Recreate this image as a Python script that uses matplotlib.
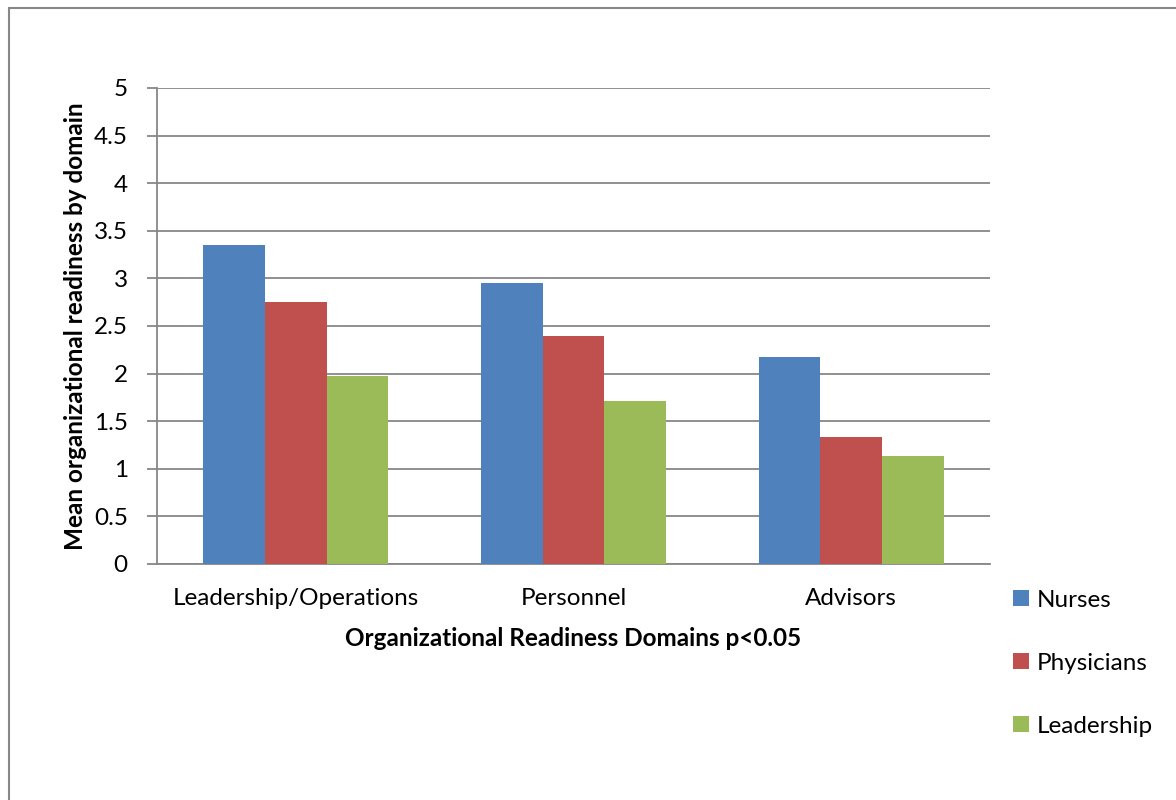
import matplotlib
matplotlib.use("Agg")
import matplotlib.pyplot as plt
from matplotlib.patches import Rectangle, Patch

plt.rcParams['font.family'] = ['Lato', 'DejaVu Sans']

categories = ["Leadership/Operations", "Personnel", "Advisors"]
series_names = ["Nurses", "Physicians", "Leadership"]
nurses = [3.355, 2.955, 2.17]
physicians = [2.75, 2.39, 1.33]
leadership = [1.98, 1.71, 1.135]
yticks = [0, 0.5, 1, 1.5, 2, 2.5, 3, 3.5, 4, 4.5, 5]
ytick_labels = ["0", "0.5", "1", "1.5", "2", "2.5", "3", "3.5", "4", "4.5", "5"]
colors = ["#4F81BD", "#C0504D", "#9BBB59"]

FS = 17.5
fig = plt.figure(figsize=(11.76, 8), dpi=100)
fig.patches.append(Rectangle((9/1176, -0.1), 1.2, 1 - 8/800 + 0.1, transform=fig.transFigure,
                             fill=False, edgecolor="#878787", linewidth=1.5))
ax = fig.add_axes([157/1176, 1 - 564/800, (990 - 157)/1176, (564 - 88)/800])

w = 0.222
xs = range(len(categories))
for i, (vals, c, name) in enumerate(zip([nurses, physicians, leadership], colors, series_names)):
    ax.bar([x + (i - 1) * w for x in xs], vals, width=w, color=c, label=name, zorder=3,
           linewidth=0)

ax.set_xlim(-0.5, 2.5)
ax.set_ylim(0, 5)
ax.set_yticks(yticks)
ax.set_yticklabels(ytick_labels, fontsize=FS)
ax.set_xticks(list(xs))
ax.set_xticklabels(categories, fontsize=FS)
ax.tick_params(axis='x', length=0, pad=17)
ax.tick_params(axis='y', length=7, width=1.3, color="#878787", pad=14)
ax.grid(axis='y', color="#878787", linewidth=1.3, zorder=0)
for s in ["top", "right"]:
    ax.spines[s].set_visible(False)
for s in ["left", "bottom"]:
    ax.spines[s].set_color("#878787")
    ax.spines[s].set_linewidth(1.3)

ax.set_ylabel("Mean organizational readiness by domain", fontsize=FS, fontweight="bold", labelpad=5)
ax.set_xlabel("Organizational Readiness Domains p<0.05", fontsize=FS, fontweight="bold", labelpad=13)

handles = [Patch(facecolor=c, edgecolor='none') for c in colors]
fig.legend(handles, series_names, loc="upper left", bbox_to_anchor=(1003/1176, 1 - 580/800),
           frameon=False, fontsize=FS, handlelength=0.65, handleheight=0.65,
           handletextpad=0.35, labelspacing=1.73, borderaxespad=0)

fig.savefig("out.png", dpi=100)
